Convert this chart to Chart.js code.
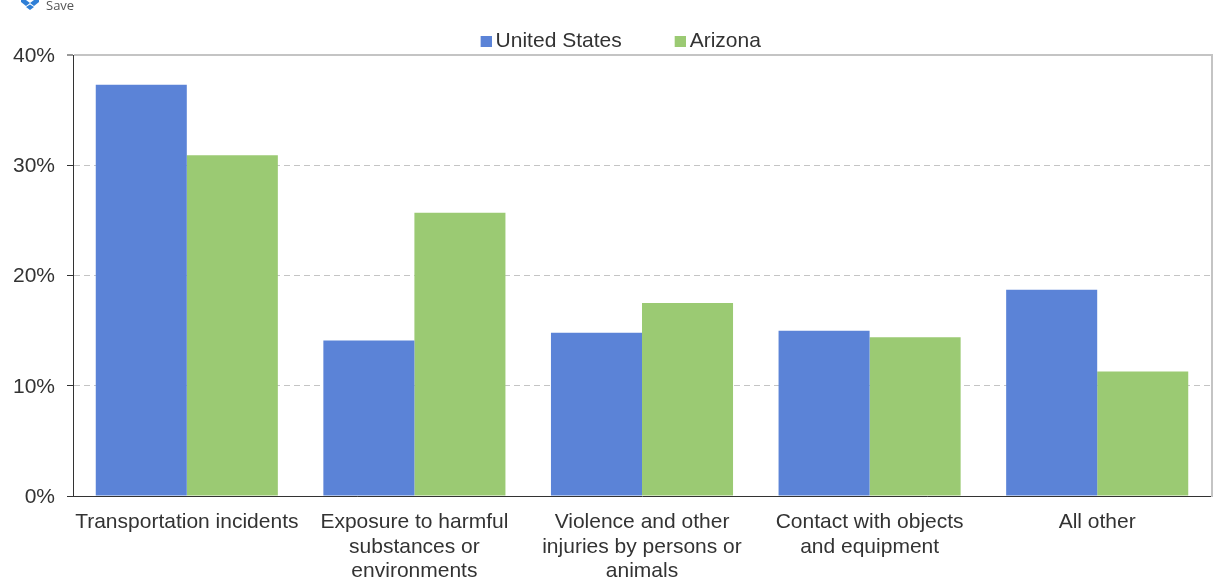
<!DOCTYPE html>
<html lang="en">
<head>
<meta charset="UTF-8" />
<title>Fatal injuries</title>
<script src="https://cdn.jsdelivr.net/npm/chart.js"></script>
<style>
    html, body { margin: 0; padding: 0; background: #fff; overflow: hidden; }
    #wrap { position: relative; width: 1213px; height: 581px; }
    #save { position: absolute; left: 46px; top: -4px; font: 13px "Open Sans", sans-serif; color: #555; z-index: 1; }
    #icon { position: absolute; left: 21px; top: 0; z-index: 1; }
    canvas { display: block; }
</style>
</head>
<body>
<div id="wrap">
    <svg id="icon" width="18" height="10" viewBox="0 0 18 10"><path d="M0 0 L5 0 L9 3 L13 0 L18 0 L18 2 L13 6 L9 3 L5 6 L0 2 Z M5 7 L9 4.5 L13 7 L9 10 Z" fill="#2f7fd6"/></svg>
    <div id="save">Save</div>
    <canvas id="chart" width="1213" height="581"></canvas>
</div>
<script>
    const categories = [
        'Transportation incidents',
        ['Exposure to harmful', 'substances or', 'environments'],
        ['Violence and other', 'injuries by persons or', 'animals'],
        ['Contact with objects', 'and equipment'],
        'All other'
    ];
    const unitedStates = [37.3, 14.1, 14.8, 15.0, 18.7];
    const arizona = [30.9, 25.7, 17.5, 14.4, 11.3];
    const blue = '#5b83d7';
    const green = '#9bca73';
    const frameGray = '#c4c4c4';
    const font = { family: '"Liberation Sans", Arial, sans-serif', size: 21, lineHeight: 1.17 };

    // Legend swatch sits close to its text, so it is a small image with empty space on its left
    function legendSwatch(color) {
        const swatch = document.createElement('canvas');
        swatch.width = 14;
        swatch.height = 11;
        const ctx = swatch.getContext('2d');
        ctx.fillStyle = color;
        ctx.fillRect(3, 0, 11, 11);
        return swatch;
    }

    // Legend gap is wide, so keep its box short and lift it above the plot
    const legendPlacement = {
        id: 'legendPlacement',
        beforeInit(chart) {
            const fit = chart.legend.fit;
            chart.legend.fit = function () {
                fit.call(this);
                this.height = 55;
            };
        },
        afterLayout(chart) {
            const legend = chart.legend;
            legend.top = -26;
            legend.left += 17;
            legend.right += 17;
        }
    };

    // Gray line down the right side of the plot
    const rightEdge = {
        id: 'rightEdge',
        afterDraw(chart) {
            const { ctx, chartArea } = chart;
            ctx.save();
            ctx.strokeStyle = frameGray;
            ctx.lineWidth = 2;
            ctx.beginPath();
            ctx.moveTo(chartArea.right + 1, chartArea.top - 1);
            ctx.lineTo(chartArea.right + 1, chartArea.bottom + 1);
            ctx.stroke();
            ctx.restore();
        }
    };

    new Chart(document.getElementById('chart'), {
        type: 'bar',
        data: {
            labels: categories,
            datasets: [
                { label: 'United States', data: unitedStates, backgroundColor: blue, pointStyle: legendSwatch(blue) },
                { label: 'Arizona', data: arizona, backgroundColor: green, pointStyle: legendSwatch(green) }
            ]
        },
        options: {
            responsive: false,
            animation: false,
            layout: { padding: { left: 0, right: 2, top: 0, bottom: 0 } },
            datasets: { bar: { categoryPercentage: 0.8, barPercentage: 1 } },
            scales: {
                x: {
                    afterFit: axis => { axis.height = 85; },
                    grid: { display: false },
                    border: { color: '#333' },
                    ticks: { color: '#333', font: font, maxRotation: 0, autoSkip: false, padding: 6 }
                },
                y: {
                    min: 0,
                    max: 40,
                    afterFit: axis => { axis.width = 73; },
                    grid: {
                        color: frameGray,
                        lineWidth: ctx => (ctx.tick && ctx.tick.value === 40 ? 2 : 1),
                        tickColor: '#333',
                        tickWidth: 1,
                        tickLength: 6
                    },
                    border: {
                        color: '#333',
                        dash: ctx => (ctx.tick && ctx.tick.value === 40 ? [] : [6, 4])
                    },
                    ticks: { color: '#333', font: font, stepSize: 10, padding: 12, labelOffset: 1, callback: v => v + '%' }
                }
            },
            plugins: {
                tooltip: { enabled: false },
                legend: {
                    position: 'top',
                    labels: {
                        color: '#333',
                        font: font,
                        usePointStyle: true,
                        pointStyleWidth: 1,
                        boxHeight: 11,
                        padding: 56.5
                    }
                }
            }
        },
        plugins: [legendPlacement, rightEdge]
    });
</script>
</body>
</html>
